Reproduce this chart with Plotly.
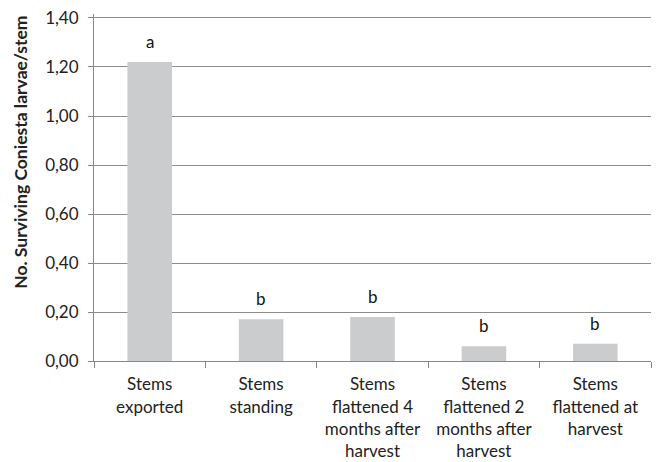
import plotly.graph_objects as go

categories = ["Stems<br>exported", "Stems<br>standing", "Stems<br>flattened 4<br>months after<br>harvest",
              "Stems<br>flattened 2<br>months after<br>harvest", "Stems<br>flattened at<br>harvest"]
values = [1.22, 0.17, 0.18, 0.06, 0.07]
letters = ["a", "b", "b", "b", "b"]
y_ticks = [0.0, 0.2, 0.4, 0.6, 0.8, 1.0, 1.2, 1.4]
y_title = "No. Surviving Coniesta larvae/stem"

FONT = "Lato"
fig = go.Figure()
fig.add_trace(go.Bar(x=categories, y=values, marker=dict(color="#CBCCCE", line=dict(width=0)),
                     width=0.4, showlegend=False))
for c, v, l in zip(categories, values, letters):
    fig.add_annotation(x=c, y=v, text=l, showarrow=False, yanchor="bottom", yshift=8,
                       font=dict(family=FONT, size=17, color="#111"))

fig.add_annotation(xref="paper", yref="paper", x=-0.131, y=0.60, xanchor="center", yanchor="middle",
                   text="<b>" + y_title + "</b>", textangle=-90, showarrow=False,
                   font=dict(family=FONT, size=17.5, color="#222"))

fig.update_layout(
    width=652, height=454,
    margin=dict(l=86, r=9, t=6, b=101),
    plot_bgcolor="white", paper_bgcolor="white",
    separators=",.",
    font=dict(family=FONT, size=17, color="#222"),
    bargap=0.6,
)
fig.update_xaxes(showline=True, linecolor="#888", linewidth=1, ticks="outside", tickson="boundaries",
                 ticklen=6, tickcolor="#888", showgrid=False, tickfont=dict(size=17),
                 ticklabelstandoff=8, automargin=False)
fig.update_yaxes(range=[0, 1.4163], tickvals=y_ticks, tickformat=".2f", showgrid=True, gridcolor="#8c8c8c",
                 gridwidth=1, showline=True, linecolor="#888", ticks="outside", ticklen=5, tickcolor="#888",
                 zeroline=False, tickfont=dict(size=17), ticklabelstandoff=6, automargin=False,
                 ticklabeloverflow="allow")
fig.write_html("out.html")
